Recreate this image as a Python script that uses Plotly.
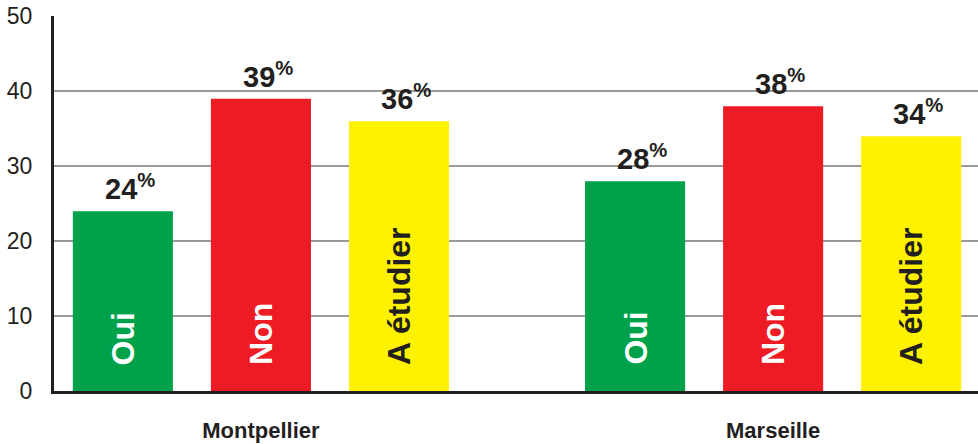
import plotly.graph_objects as go

cities = ["Montpellier", "Marseille"]
answers = ["Oui", "Non", "A étudier"]
oui = [24, 28]
non = [39, 38]
a_etudier = [36, 34]
series = [oui, non, a_etudier]
y_ticks = [0, 10, 20, 30, 40, 50]

colors = ["#00a14b", "#ed1c24", "#fff200"]
label_colors = ["#ffffff", "#ffffff", "#231f20"]
offsets = [-138, 0, 138]
FONT = "Liberation Sans Narrow, Arial Narrow, Liberation Sans, sans-serif"
DARK = "#231f20"

fig = go.Figure()
for name, vals, col in zip(answers, series, colors):
    fig.add_trace(go.Bar(x=cities, y=vals, name=name, marker=dict(color=col, line=dict(width=0)),
                         hoverinfo="skip"))

annotations = []
for i, (name, vals) in enumerate(zip(answers, series)):
    for c, v in zip(cities, vals):
        annotations.append(dict(
            x=c, y=v, xref="x", yref="y", xanchor="center", yanchor="bottom",
            xshift=offsets[i] + 7, yshift=4, showarrow=False,
            text=f"<b>{v}<sup>%</sup></b>",
            font=dict(family=FONT, size=29, color=DARK)))
        annotations.append(dict(
            x=c, y=0, xref="x", yref="y", xanchor="center", yanchor="bottom",
            xshift=offsets[i], yshift=24, showarrow=False, textangle=-90,
            text=f"<b>{name}</b>",
            font=dict(family=FONT, size=32, color=label_colors[i])))

fig.update_layout(
    width=978, height=444,
    margin=dict(l=54, r=0, t=16, b=53, autoexpand=False),
    paper_bgcolor="white", plot_bgcolor="white",
    barmode="group", bargap=0.1914, bargroupgap=0.275,
    showlegend=False,
    annotations=annotations,
    xaxis=dict(range=[-0.404, 1.4], showgrid=False, showline=True, linecolor=DARK, linewidth=3,
               ticks="", ticklabelstandoff=18, automargin=False,
               tickfont=dict(family=FONT, size=22, color=DARK, weight="bold")),
    yaxis=dict(range=[0, 50.05], tickvals=y_ticks, showgrid=True, gridcolor="#9a9a9a", gridwidth=1.5,
               showline=True, linecolor=DARK, linewidth=3, zeroline=False, ticks="",
               ticklabelstandoff=14, automargin=False,
               tickfont=dict(family="Liberation Sans, Arial, sans-serif", size=23, color=DARK)),
)

fig.write_html("out.html", config={"displayModeBar": False},
               post_script="document.body.style.margin='0px';document.body.style.overflow='hidden';")
